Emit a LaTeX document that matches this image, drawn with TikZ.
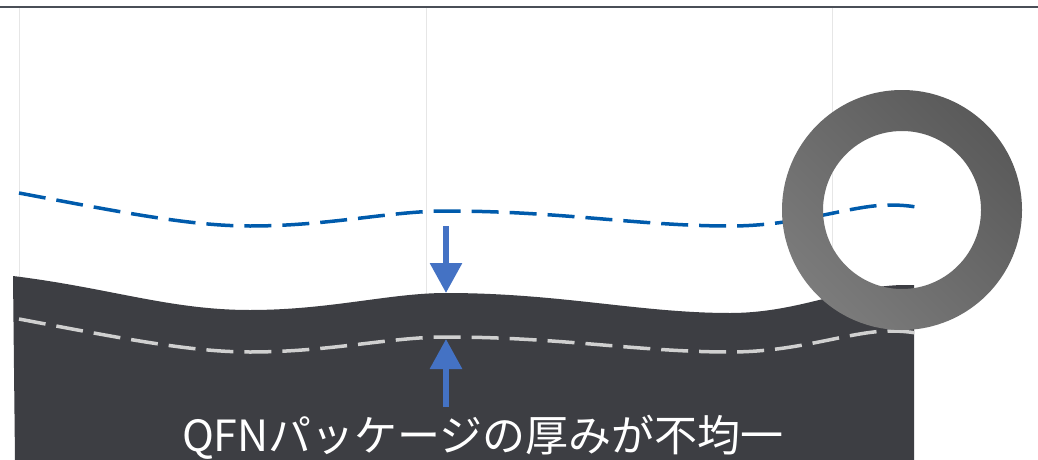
\documentclass[tikz,border=0pt]{standalone}
\usepackage{fontspec}
\newfontfamily\jpfont{Noto Sans CJK JP}
\usetikzlibrary{arrows.meta}
\definecolor{frameline}{HTML}{4A4F57}
\definecolor{gridgray}{HTML}{E6E6E6}
\definecolor{pkgdark}{HTML}{3D3E43}
\definecolor{waveblue}{HTML}{005BAC}
\definecolor{arrowblue}{HTML}{4472C4}
\definecolor{lightdash}{HTML}{D0D0D0}
\definecolor{ringlight}{HTML}{7B7B7B}
\definecolor{ringdark}{HTML}{5A5A5A}
\tikzset{
  gridline/.style={draw=gridgray, line width=1pt},
  wavedash/.style={line width=3.5pt, dash pattern=on 27pt off 11pt},
  thickarrow/.style={draw=arrowblue, line width=6pt, -{Triangle[width=31pt,length=30pt]}},
  label/.style={font=\jpfont\fontsize{43}{50}\selectfont, text=white, inner sep=0pt}
}
\begin{document}
\begin{tikzpicture}[x=1pt,y=-1pt]
\useasboundingbox (0,0) rectangle (1038,460);
\fill[white] (0,0) rectangle (1038,460);
% grid lines
\foreach \gx in {19,426,832} \draw[gridline] (\gx,7) -- (\gx,460);
\draw[frameline, line width=1.5pt] (0,7) -- (1038,7);
% package body
\fill[pkgdark] (13,276) .. controls (110,288) and (170,310) .. (250,310)
  .. controls (330,310) and (390,293) .. (446,293)
  .. controls (560,293) and (640,313) .. (730,313)
  .. controls (800,313) and (850,285) .. (905,285)
  -- (914,285) -- (914,460) -- (15,460) -- cycle;
% blue dashed wave
\draw[waveblue, wavedash] (19,193) .. controls (120,212) and (190,226) .. (250,226)
  .. controls (330,226) and (390,211) .. (446,211)
  .. controls (560,211) and (640,226) .. (730,226)
  .. controls (800,226) and (850,205) .. (890,205)
  .. controls (902,205) and (910,206) .. (916,207);
% light dashed wave
\draw[lightdash, wavedash] (19,319) .. controls (120,338) and (190,352) .. (250,352)
  .. controls (330,352) and (390,337) .. (446,337)
  .. controls (560,337) and (640,352) .. (730,352)
  .. controls (800,352) and (850,331) .. (890,331)
  .. controls (902,331) and (910,332) .. (916,333);
% arrows
\coordinate (d0) at (446,226);
\coordinate (d1) at (446,293);
\coordinate (u0) at (446,407);
\coordinate (u1) at (446,339);
\draw[thickarrow] (d0) -- (d1);
\draw[thickarrow] (u0) -- (u1);
% ring
\shade[even odd rule, top color=ringdark, bottom color=ringlight, shading angle=-45]
  (902,210) circle[radius=120pt] (902,210) circle[radius=79pt];
% label
\node[label, anchor=base] (lbl) at (483,451) {QFNパッケージの厚みが不均一};
\end{tikzpicture}
\end{document}
